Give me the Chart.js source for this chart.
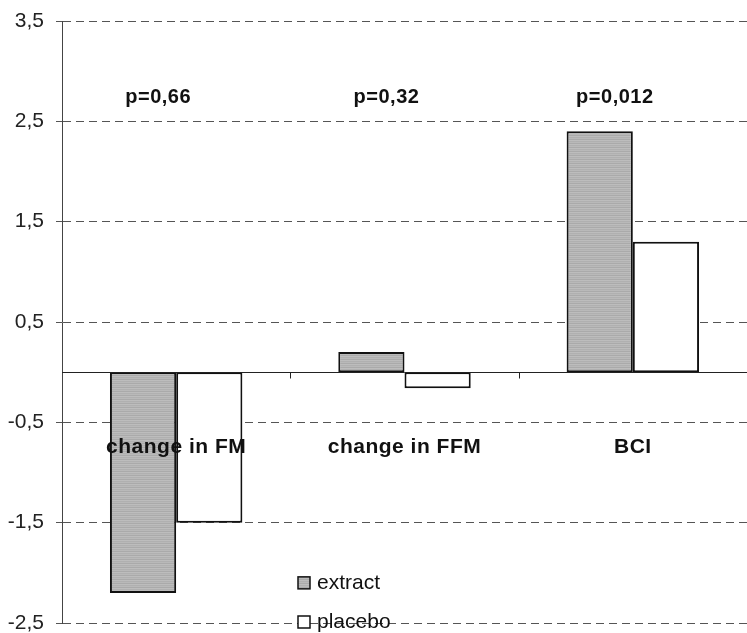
<!DOCTYPE html>
<html>
<head>
<meta charset="utf-8">
<script src="https://cdn.jsdelivr.net/npm/chart.js@4/dist/chart.umd.min.js"></script>
<style>
  html, body { margin: 0; padding: 0; background: #fff; }
  #wrap { width: 747px; height: 633px; position: relative; }
</style>
</head>
<body>
<div id="wrap"><canvas id="c"></canvas></div>
<script>
// Categories, series and labels
const categories = ['change in FM', 'change in FFM', 'BCI'];
const extractValues = [-2.2, 0.2, 2.4];
const placeboValues = [-1.5, -0.16, 1.3];
const pLabels = ['p=0,66', 'p=0,32', 'p=0,012'];
const yTickValues = [-2.5, -1.5, -0.5, 0.5, 1.5, 2.5, 3.5];
const seriesNames = ['extract', 'placebo'];

const FONT = '"Liberation Sans", Arial, sans-serif';

// Fine horizontal-line grey fill for the extract bars
function stripedGrey() {
  const c = document.createElement('canvas');
  c.width = 4; c.height = 4;
  const g = c.getContext('2d');
  ['#bdbdbd', '#b0b0b0', '#b9b9b9', '#aaaaaa'].forEach((col, i) => {
    g.fillStyle = col;
    g.fillRect(0, i, 4, 1);
  });
  return g.createPattern(c, 'repeat');
}

// Zero line, category ticks, in-plot labels and legend
const annotate = {
  id: 'annotate',
  afterDatasetsDraw(chart) {
    const { ctx, chartArea: a, scales: { x, y } } = chart;
    const y0 = Math.round(y.getPixelForValue(0)) + 0.5;
    ctx.save();
    // solid zero line
    ctx.strokeStyle = '#222';
    ctx.lineWidth = 1;
    ctx.setLineDash([]);
    ctx.beginPath();
    ctx.moveTo(a.left, y0);
    ctx.lineTo(a.right, y0);
    ctx.stroke();
    // category boundary ticks on the zero line
    const step = (a.right - a.left) / categories.length;
    for (let i = 1; i < categories.length; i++) {
      const bx = Math.round(a.left + step * i) + 0.5;
      ctx.beginPath();
      ctx.moveTo(bx, y0);
      ctx.lineTo(bx, y0 + 6);
      ctx.stroke();
    }

    ctx.fillStyle = '#111';
    ctx.textAlign = 'center';
    ctx.textBaseline = 'middle';
    // p-values
    ctx.font = 'bold 20px ' + FONT;
    ctx.letterSpacing = '0.5px';
    pLabels.forEach((t, i) => {
      ctx.fillText(t, x.getPixelForValue(i) - 18, y.getPixelForValue(2.74));
    });
    // category names inside the plot
    ctx.font = 'bold 21px ' + FONT;
    ctx.letterSpacing = '0.5px';
    categories.forEach((t, i) => {
      ctx.fillText(t, x.getPixelForValue(i), y.getPixelForValue(-0.75));
    });

    // legend
    ctx.letterSpacing = '0px';
    ctx.font = '21px ' + FONT;
    ctx.textAlign = 'left';
    const lx = a.left + 236;
    const rows = [y.getPixelForValue(-2.1), y.getPixelForValue(-2.49)];
    chart.data.datasets.forEach((ds, i) => {
      const cy = rows[i];
      ctx.fillStyle = ds.backgroundColor;
      ctx.fillRect(lx, cy - 6, 12, 12);
      ctx.strokeStyle = '#111';
      ctx.lineWidth = 1.5;
      ctx.strokeRect(lx, cy - 6, 12, 12);
      ctx.fillStyle = '#111';
      ctx.fillText(ds.label, lx + 19, cy);
    });
    ctx.restore();
  }
};

new Chart(document.getElementById('c'), {
  type: 'bar',
  data: {
    labels: categories,
    datasets: [
      {
        label: seriesNames[0],
        data: extractValues,
        backgroundColor: stripedGrey(),
        borderColor: '#111',
        borderWidth: 2,
        borderSkipped: false
      },
      {
        label: seriesNames[1],
        data: placeboValues,
        backgroundColor: '#ffffff',
        borderColor: '#111',
        borderWidth: 2,
        borderSkipped: false
      }
    ]
  },
  options: {
    responsive: true,
    maintainAspectRatio: false,
    animation: false,
    layout: { padding: { top: 21, bottom: 10, left: 0, right: 0 } },
    datasets: { bar: { barPercentage: 1, categoryPercentage: 0.58 } },
    plugins: {
      legend: { display: false },
      tooltip: { enabled: false }
    },
    scales: {
      x: { display: false },
      y: {
        min: -2.5,
        max: 3.5,
        afterBuildTicks: s => { s.ticks = yTickValues.map(v => ({ value: v })); },
        afterFit: s => { s.width = 62; s.paddingTop = 0; s.paddingBottom = 0; },
        ticks: {
          padding: 12,
          color: '#222',
          font: { family: FONT, size: 21 },
          callback: v => Number(v).toFixed(1).replace('.', ',')
        },
        grid: { color: '#555', lineWidth: 1, tickLength: 6 },
        border: { display: true, color: '#444', width: 1, dash: [8, 5] }
      }
    }
  },
  plugins: [annotate]
});
</script>
</body>
</html>
